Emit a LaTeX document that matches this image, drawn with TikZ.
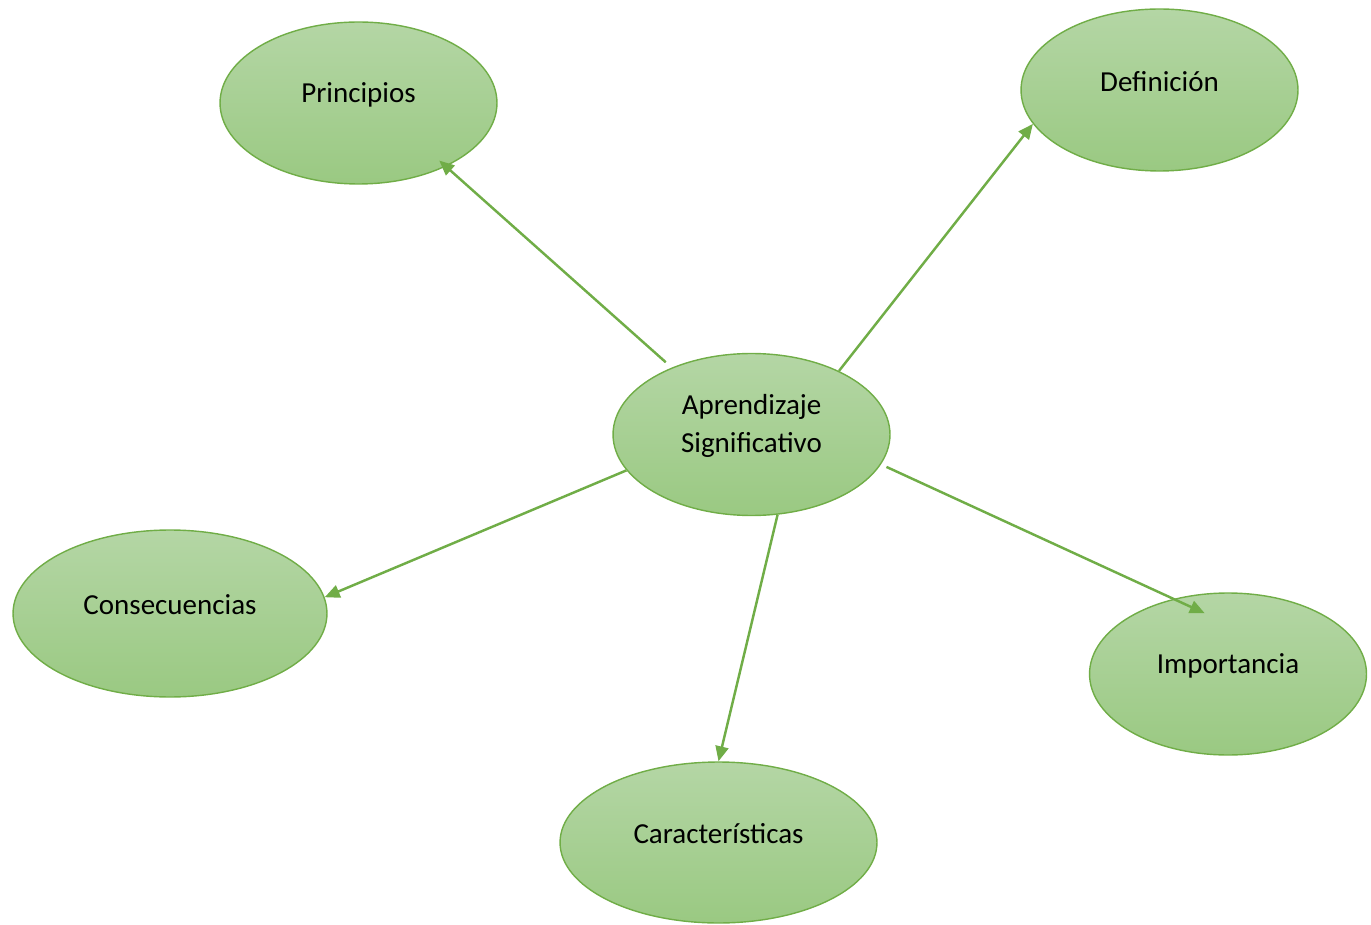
\documentclass[tikz,border=0pt]{standalone}
\usepackage{fontspec}
\setmainfont{Carlito}
\usepackage{tikz}
\usetikzlibrary{shapes.geometric,arrows.meta}
\definecolor{leaf}{HTML}{70AD47}
\definecolor{leaftop}{HTML}{B4D6A5}
\definecolor{leafbot}{HTML}{9AC982}
\newcommand{\up}[1]{\raisebox{0.17cm}[\height][\depth]{#1}}

\begin{document}
\begin{tikzpicture}[x=0.02cm,y=-0.02cm,
    bubble/.style={ellipse,draw=leaf,line width=0.8pt,top color=leaftop,bottom color=leafbot,
      inner sep=0pt,minimum width=5.54cm,minimum height=3.24cm,font=\fontsize{16.5}{21.6}\selectfont},
    arr/.style={-{Triangle[length=0.3cm,width=0.26cm]},leaf,line width=1.4pt}]
    \useasboundingbox(0,0)rectangle(1371,925);
    % bubbles
    \node[bubble](main)at(751.5,434.5){\up{\begin{tabular}{@{}c@{}}Aprendizaje\\Significativo\end{tabular}}};
    \node[bubble](princ)at(358.5,103){\up{Principios}};
    \node[bubble](defi)at(1159.5,90){\up{Definición}};
    \node[bubble,minimum width=6.28cm,minimum height=3.34cm](conse)at(170,613.5){\up{Consecuencias}};
    \node[bubble](impor)at(1228,674){\up{Importancia}};
    \node[bubble,minimum width=6.34cm,minimum height=3.22cm](carac)at(718.5,842.5){\up{Características}};
    % arrows
    \draw[arr,shorten <=0.16cm,shorten >=-0.18cm](main.140.4)--(princ.-36.4);
    \draw[arr](main.36.7)--(defi.195.6);
    \draw[arr](main.196.8)--(conse.6.8);
    \draw[arr](main.-72.4)--(carac.90);
    \draw[arr,shorten <=0.12cm,shorten >=-0.69cm](main.-13.7)--(impor.126.2);
\end{tikzpicture}
\end{document}
